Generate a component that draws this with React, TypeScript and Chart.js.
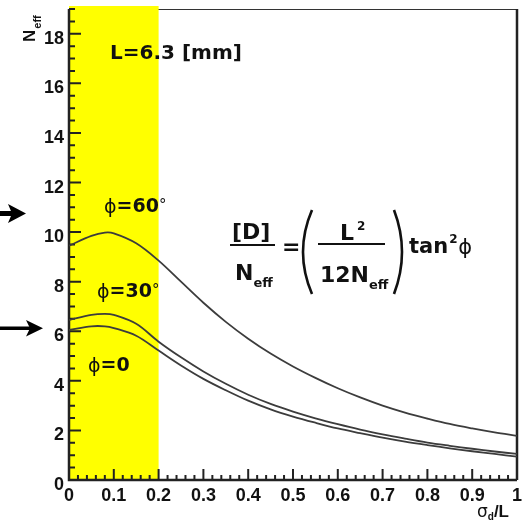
import React, { useEffect, useRef } from 'react';
import { Chart, registerables } from 'chart.js';

Chart.register(...registerables);

// ---- data ----
const X_VALUES = [0, 0.05, 0.08, 0.1, 0.15, 0.2, 0.25, 0.3, 0.35, 0.4, 0.45, 0.5, 0.55, 0.6, 0.65, 0.7, 0.75, 0.8, 0.85, 0.9, 0.95, 1.0];
const PHI60 = [9.45, 9.85, 9.98, 9.95, 9.55, 8.85, 8.0, 7.15, 6.38, 5.7, 5.1, 4.58, 4.12, 3.7, 3.33, 3.0, 2.72, 2.48, 2.26, 2.08, 1.92, 1.78];
const PHI30 = [6.45, 6.66, 6.7, 6.66, 6.3, 5.58, 4.95, 4.38, 3.88, 3.44, 3.07, 2.76, 2.49, 2.25, 2.03, 1.84, 1.67, 1.51, 1.38, 1.26, 1.15, 1.05];
const PHI0 = [6.05, 6.2, 6.2, 6.13, 5.82, 5.22, 4.62, 4.08, 3.62, 3.2, 2.85, 2.56, 2.31, 2.08, 1.89, 1.71, 1.55, 1.41, 1.28, 1.16, 1.05, 0.94];

const X_TICK_VALUES = [0, 0.1, 0.2, 0.3, 0.4, 0.5, 0.6, 0.7, 0.8, 0.9, 1];
const X_TICK_LABELS = ['0', '0.1', '0.2', '0.3', '0.4', '0.5', '0.6', '0.7', '0.8', '0.9', '1'];
const Y_TICK_VALUES = [0, 2, 4, 6, 8, 10, 12, 14, 16, 18];
const Y_TICK_LABELS = ['0', '2', '4', '6', '8', '10', '12', '14', '16', '18'];
const X_MINOR_DIV = 5;
const Y_MINOR_DIV = 4;
const X_MIN = 0, X_MAX = 1, Y_MIN = 0, Y_MAX = 19;
const BAND = [0, 0.2];

const CURVE_LABELS = [
  { text: '=60', deg: true, value: 60 },
  { text: '=30', deg: true, value: 30 },
  { text: '=0', deg: false, value: 0 },
];

const TICK_FONT = 'bold 18px "Liberation Sans"';
const B = (n: number) => `bold ${n}px "DejaVu Sans"`;
const R = (n: number) => `${n}px "DejaVu Sans"`;
const PHI = '\u03D5';

function t(ctx: CanvasRenderingContext2D, s: string, x: number, y: number, font: string, align: CanvasTextAlign = 'left') {
  ctx.font = font;
  ctx.textAlign = align;
  ctx.textBaseline = 'alphabetic';
  ctx.fillText(s, x, y);
  return ctx.measureText(s).width;
}

const rootPlugin = {
  id: 'rootStyle',
  beforeDatasetsDraw(chart: any) {
    const { ctx, chartArea } = chart;
    const { left, right, top, bottom } = chartArea;
    const xs = chart.scales.x, ys = chart.scales.y;
    ctx.save();
    // top / right frame
    ctx.strokeStyle = '#333';
    ctx.lineWidth = 1;
    ctx.beginPath();
    ctx.moveTo(left, top + 0.5);
    ctx.lineTo(right, top + 0.5);
    ctx.stroke();
    ctx.lineWidth = 2.5;
    ctx.strokeStyle = '#222';
    ctx.beginPath();
    ctx.moveTo(right, top);
    ctx.lineTo(right, bottom);
    ctx.stroke();
    // yellow band
    const bx0 = xs.getPixelForValue(BAND[0]);
    const bx1 = xs.getPixelForValue(BAND[1]);
    ctx.fillStyle = '#ffff00';
    ctx.fillRect(bx0, top - 3, bx1 - bx0, bottom - top + 3);
    // axes
    ctx.strokeStyle = '#222';
    ctx.lineWidth = 2.5;
    ctx.beginPath();
    ctx.moveTo(left, top);
    ctx.lineTo(left, bottom);
    ctx.lineTo(right, bottom);
    ctx.stroke();
    // ticks
    ctx.lineWidth = 2;
    ctx.beginPath();
    for (let i = 0; i < X_TICK_VALUES.length; i++) {
      const v = X_TICK_VALUES[i];
      const px = xs.getPixelForValue(v);
      ctx.moveTo(px, bottom);
      ctx.lineTo(px, bottom - 11);
      if (i < X_TICK_VALUES.length - 1) {
        const step = (X_TICK_VALUES[i + 1] - v) / X_MINOR_DIV;
        for (let k = 1; k < X_MINOR_DIV; k++) {
          const mx = xs.getPixelForValue(v + k * step);
          ctx.moveTo(mx, bottom);
          ctx.lineTo(mx, bottom - 5);
        }
      }
    }
    const yStep = (Y_TICK_VALUES[1] - Y_TICK_VALUES[0]) / Y_MINOR_DIV;
    for (let v = Y_MIN; v <= Y_MAX + 1e-9; v += yStep) {
      const py = ys.getPixelForValue(v);
      const major = Y_TICK_VALUES.some((m) => Math.abs(m - v) < 1e-9);
      ctx.moveTo(left, py);
      ctx.lineTo(left + (major ? 12 : 6), py);
    }
    ctx.stroke();
    // tick labels
    ctx.fillStyle = '#111';
    X_TICK_VALUES.forEach((v, i) => {
      t(ctx, X_TICK_LABELS[i], xs.getPixelForValue(v), bottom + 21, TICK_FONT, 'center');
    });
    Y_TICK_VALUES.forEach((v, i) => {
      t(ctx, Y_TICK_LABELS[i], left - 5, ys.getPixelForValue(v) + 10, TICK_FONT, 'right');
    });
    // y title (rotated)
    ctx.save();
    ctx.translate(35, 42);
    ctx.rotate(-Math.PI / 2);
    const wN = t(ctx, 'N', 0, 0, 'bold 17px "Liberation Sans"');
    t(ctx, 'eff', wN + 1, 6, 'bold 11px "Liberation Sans"');
    ctx.restore();
    // x title
    const w1 = t(ctx, '\u03C3', 477, 517, R(17));
    const w2 = t(ctx, 'd', 477 + w1, 520, 'bold 10px "Liberation Sans"');
    t(ctx, '/L', 477 + w1 + w2, 517, 'bold 17px "Liberation Sans"');
    ctx.restore();
  },
  afterDatasetsDraw(chart: any) {
    const { ctx } = chart;
    ctx.save();
    ctx.fillStyle = '#111';
    ctx.strokeStyle = '#111';
    // L label
    t(ctx, 'L=6.3 [mm]', 110, 59, B(20));
    // curve labels
    const pos = [
      [104, 212],
      [97, 297],
      [88, 371],
    ];
    CURVE_LABELS.forEach((c, i) => {
      const [x, y] = pos[i];
      const wp = t(ctx, PHI, x, y + 1, R(19));
      const wt = t(ctx, c.text, x + wp, y, B(19));
      if (c.deg) t(ctx, '\u00B0', x + wp + wt, y - 2, R(15));
    });
    // formula
    t(ctx, '[D]', 232, 239, B(22));
    ctx.lineWidth = 2;
    ctx.beginPath();
    ctx.moveTo(230, 245);
    ctx.lineTo(275, 245);
    ctx.moveTo(318, 244);
    ctx.lineTo(385, 244);
    ctx.stroke();
    const wN1 = t(ctx, 'N', 235, 280, B(22));
    t(ctx, 'eff', 235 + wN1, 287, B(13));
    t(ctx, '=', 282, 254, B(22));
    ctx.lineWidth = 2.6;
    ctx.beginPath();
    ctx.moveTo(312, 210);
    ctx.quadraticCurveTo(294, 252, 312, 294);
    ctx.moveTo(394, 210);
    ctx.quadraticCurveTo(410, 252, 394, 294);
    ctx.stroke();
    const wL = t(ctx, 'L', 340, 240, B(22));
    t(ctx, '2', 340 + wL + 3, 230, B(12));
    const w12 = t(ctx, '12N', 320, 282, B(22));
    t(ctx, 'eff', 320 + w12, 289, B(13));
    const wt = t(ctx, 'tan', 409, 253, B(21));
    t(ctx, '2', 409 + wt + 1, 243, B(12));
    t(ctx, PHI, 409 + wt + 10, 254, R(21));
    // arrows
    ctx.fillStyle = '#000';
    ctx.fillRect(0, 211, 12, 5);
    ctx.beginPath();
    ctx.moveTo(26, 213.5);
    ctx.lineTo(8, 204);
    ctx.lineTo(12, 213.5);
    ctx.lineTo(8, 223);
    ctx.closePath();
    ctx.fill();
    ctx.fillRect(0, 326.5, 32, 3.5);
    ctx.beginPath();
    ctx.moveTo(43, 328.2);
    ctx.lineTo(26, 320);
    ctx.lineTo(30, 328.2);
    ctx.lineTo(26, 336.5);
    ctx.closePath();
    ctx.fill();
    ctx.restore();
  },
};

function series(vals: number[]) {
  return X_VALUES.map((x, i) => ({ x, y: vals[i] }));
}

export default function App() {
  const ref = useRef<HTMLCanvasElement>(null);
  useEffect(() => {
    const lineStyle = {
      borderColor: '#3c3c3c',
      borderWidth: 1.8,
      pointRadius: 0,
      fill: false,
      tension: 0.35,
    };
    const chart = new Chart(ref.current!, {
      type: 'line',
      data: {
        datasets: [
          { label: 'phi=60', data: series(PHI60), ...lineStyle },
          { label: 'phi=30', data: series(PHI30), ...lineStyle },
          { label: 'phi=0', data: series(PHI0), ...lineStyle },
        ],
      },
      options: {
        responsive: false,
        animation: false,
        events: [],
        layout: { padding: { left: 69, right: 5, top: 9, bottom: 45 } },
        scales: {
          x: { type: 'linear', min: X_MIN, max: X_MAX, display: false },
          y: { type: 'linear', min: Y_MIN, max: Y_MAX, display: false },
        },
        plugins: { legend: { display: false }, tooltip: { enabled: false } },
      },
      plugins: [rootPlugin],
    });
    return () => chart.destroy();
  }, []);
  return (
    <div style={{ position: 'fixed', left: 0, top: 0, width: 522, height: 525, background: '#fff' }}>
      <canvas ref={ref} width={522} height={525} style={{ display: 'block' }} />
    </div>
  );
}
